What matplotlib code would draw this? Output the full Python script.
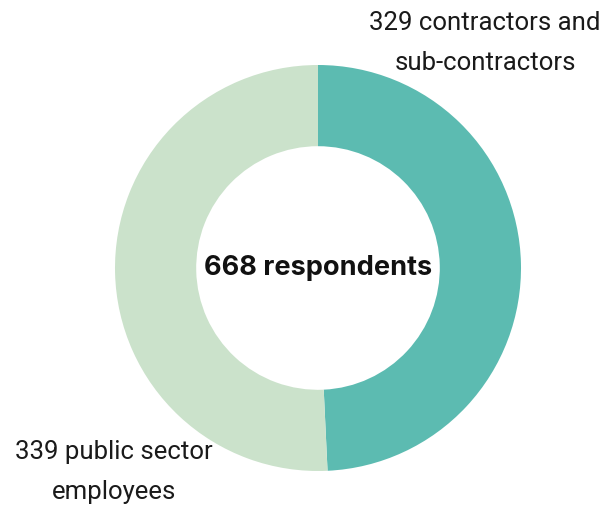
import matplotlib.pyplot as plt

labels = ['329 contractors and\nsub-contractors', '339 public sector\nemployees']
values = [329, 339]
colors = ['#5cbbb1', '#cbe2cb']
total_label = '668 respondents'

W, H = 616, 507
fig = plt.figure(figsize=(W / 100, H / 100), dpi=100)
ax = fig.add_axes([0, 0, 1, 1])

cx, cy, r = 318, H - 268, 203
ax.pie(values, colors=colors, startangle=90, counterclock=False,
       center=(cx, cy), radius=r, frame=True,
       wedgeprops=dict(width=r * 0.4, linewidth=0))
ax.set_xlim(0, W)
ax.set_ylim(0, H)
ax.axis('off')

ax.text(cx, cy, total_label, ha='center', va='center', fontsize=19.5,
        fontweight='bold', family='Inter', color='#111111')
ax.text(485, H - 43, labels[0], ha='center', va='center', fontsize=18.5,
        family='Roboto', color='#1a1a1a', linespacing=1.8)
ax.text(114, H - 472, labels[1], ha='center', va='center', fontsize=18.5,
        family='Roboto', color='#1a1a1a', linespacing=1.8)

fig.savefig('out.png', dpi=100)
